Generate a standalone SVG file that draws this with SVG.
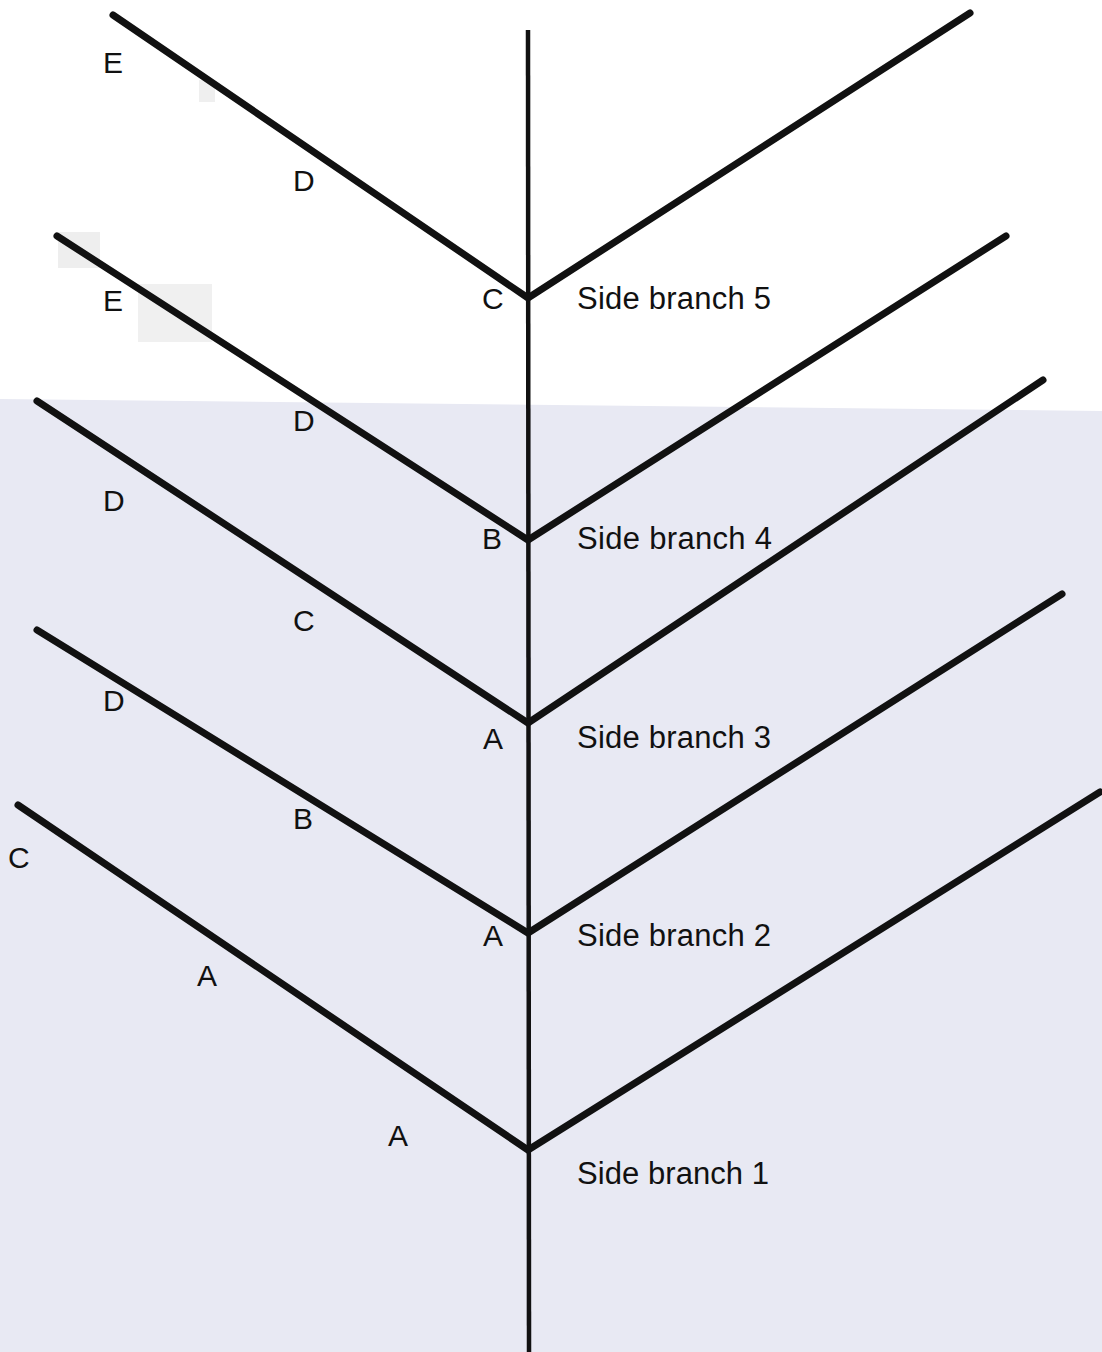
<svg xmlns="http://www.w3.org/2000/svg" width="1102" height="1352" viewBox="0 0 1102 1352">
<style>
.br{stroke:#111;stroke-width:7;stroke-linecap:round;stroke-linejoin:miter;fill:none}
.stem{stroke:#111;stroke-width:4.5;fill:none}
.lbl{font-family:"Liberation Sans",Arial,sans-serif;font-size:30px;fill:#111}
.side{font-family:"Liberation Sans",Arial,sans-serif;font-size:31px;fill:#111}
</style>
<rect x="0" y="0" width="1102" height="1352" fill="#ffffff"/>
<polygon points="0,399 1102,411 1102,1352 0,1352" fill="#e8e9f3"/>
<rect x="199" y="80" width="16" height="22" fill="#efefef"/>
<rect x="58" y="232" width="42" height="36" fill="#eeeeee"/>
<rect x="138" y="284" width="74" height="58" fill="#f0f0f0"/>
<g id="connectors">
<line class="stem" x1="528" y1="30" x2="529" y2="1352"/>
</g>
<g id="branch5">
<polyline class="br" points="113,15 528,298 970,13"/>
<text class="side" x="577" y="309" textLength="194">Side branch 5</text>
<text class="lbl" x="103" y="73">E</text>
<text class="lbl" x="293" y="191">D</text>
<text class="lbl" x="482" y="309">C</text>
</g>
<g id="branch4">
<polyline class="br" points="57,236 528,540 1006,236"/>
<text class="side" x="577" y="549" textLength="195">Side branch 4</text>
<text class="lbl" x="103" y="311">E</text>
<text class="lbl" x="293" y="431">D</text>
<text class="lbl" x="482" y="549">B</text>
</g>
<g id="branch3">
<polyline class="br" points="37,401 528,723 1043,380"/>
<text class="side" x="577" y="748" textLength="194">Side branch 3</text>
<text class="lbl" x="103" y="511">D</text>
<text class="lbl" x="293" y="631">C</text>
<text class="lbl" x="483" y="749">A</text>
</g>
<g id="branch2">
<polyline class="br" points="37,630 528,933 1062,594"/>
<text class="side" x="577" y="946" textLength="194">Side branch 2</text>
<text class="lbl" x="103" y="711">D</text>
<text class="lbl" x="293" y="829">B</text>
<text class="lbl" x="483" y="946">A</text>
</g>
<g id="branch1">
<polyline class="br" points="18,805 528,1150 1100,792"/>
<text class="side" x="577" y="1184" textLength="192">Side branch 1</text>
<text class="lbl" x="8" y="868">C</text>
<text class="lbl" x="197" y="986">A</text>
<text class="lbl" x="388" y="1146">A</text>
</g>
</svg>
